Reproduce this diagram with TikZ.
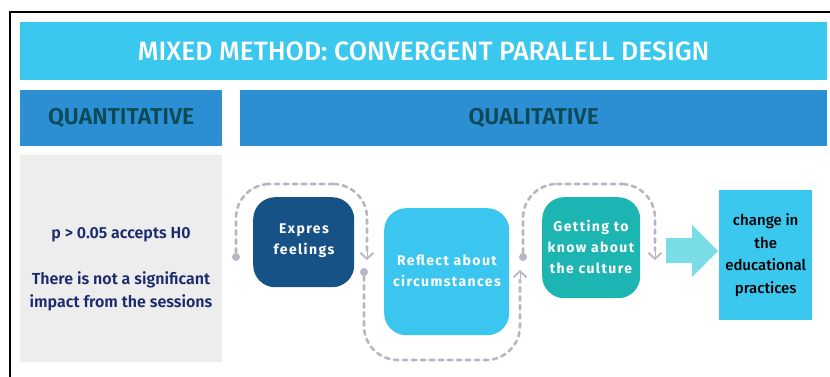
\documentclass[tikz,border=0pt]{standalone}
\usepackage{fontspec}
\setmainfont{Fira Sans}
\newfontfamily\sbfont{Fira Sans SemiBold}
\newfontfamily\mdfont{Fira Sans Medium}
\usetikzlibrary{arrows.meta}
\definecolor{titlecol}{HTML}{3AC8EF}
\definecolor{headcol}{HTML}{2D8FD3}
\definecolor{headtxt}{HTML}{0B4A56}
\definecolor{graybox}{HTML}{EDEDED}
\definecolor{navytxt}{HTML}{1A2A6C}
\definecolor{expcol}{HTML}{175287}
\definecolor{refcol}{HTML}{3AC6EE}
\definecolor{getcol}{HTML}{1CB5B1}
\definecolor{arrcol}{HTML}{7ADDE6}
\definecolor{chgcol}{HTML}{3AC8EF}
\definecolor{dashcol}{HTML}{B7B7C4}
\tikzset{
  bar/.style={fill=#1, draw=none, inner sep=0pt, anchor=north west},
  stepbox/.style={fill=#1, draw=none, rounded corners=22pt, inner sep=0pt, anchor=north west},
  steptxt/.style={text=white, font=\bfseries\addfontfeatures{LetterSpace=10}\fontsize{14}{21}\selectfont, align=center},
  headtext/.style={text=headtxt, font=\sbfont\fontsize{23}{25}\selectfont},
  dashline/.style={draw=dashcol, line width=2.6pt, dash pattern=on 4.5pt off 4.5pt, line cap=round, rounded corners=34pt},
  chev/.style={-{Straight Barb[length=6pt,width=13pt,line width=1.8pt]}},
  dotnode/.style={circle, fill=dashcol, inner sep=0pt, minimum size=8pt},
}
\begin{document}
\begin{tikzpicture}[x=1pt,y=-1pt]
\useasboundingbox (0,0) rectangle (830,377);
% frame
\draw[line width=1.5pt] (10,377) -- (10,12) -- (830,12);
% title
\node[bar=titlecol, minimum width=807pt, minimum height=58pt] (title) at (20,22) {};
\node[text=white, font=\mdfont\fontsize{26.5}{28}\selectfont] (titletxt) at (title.center) {MIXED METHOD: CONVERGENT PARALELL DESIGN};
% headers
\node[bar=headcol, minimum width=202pt, minimum height=56pt] (quant) at (20,90) {};
\node[headtext] (quanttxt) at (quant.center) {QUANTITATIVE};
\node[bar=headcol, minimum width=587pt, minimum height=56pt] (qual) at (240,90) {};
\node[headtext] (qualtxt) at (qual.center) {QUALITATIVE};
% gray box
\node[bar=graybox, minimum width=202pt, minimum height=207pt] (gray) at (20,155) {};
\node[text=navytxt, font=\sbfont\fontsize{16}{18}\selectfont] (ptxt) at (121,235) {p > 0.05 accepts H0};
\node[text=navytxt, font=\sbfont\fontsize{16}{23}\selectfont, align=center] (imptxt) at (121,291) {There is not a significant\\impact from the sessions};
% step boxes
\node[stepbox=expcol, minimum width=101pt, minimum height=90pt] (exp) at (253,197) {};
\node[steptxt] (exptxt) at (304,241) {Expres\\feelings};
\node[stepbox=refcol, minimum width=125pt, minimum height=127pt] (ref) at (384,208) {};
\node[steptxt] (reftxt) at (447,271) {Reflect about\\circumstances};
\node[stepbox=getcol, minimum width=98pt, minimum height=101pt] (get) at (542,197) {};
\node[steptxt] (gettxt) at (591,247) {Getting to\\know about\\the culture};
% big arrow
\fill[arrcol] (666,238) -- (692,238) -- (692,225) -- (718,251) -- (692,277) -- (692,263) -- (666,263) -- cycle;
% change box
\node[bar=chgcol, minimum width=93pt, minimum height=130pt] (chg) at (719,190) {};
\node[text=black, font=\mdfont\fontsize{15}{22.5}\selectfont, align=center] (chgtxt) at (chg.center) {change in\\the\\educational\\practices};
% dashed connectors
\node[dotnode] (d1) at (236,257) {};
\node[dotnode] (d2) at (364,272) {};
\node[dotnode] (d3) at (523,257) {};
\coordinate (e1) at (367,260);
\coordinate (e2) at (520,270);
\coordinate (e3) at (655,260);
\draw[dashline] (d1) |- (301,184) -| (367,250);
\draw[chev, draw=dashcol] (367,250) -- (e1);
\draw[dashline] (d2) |- (450,360) -| (520,280);
\draw[chev, draw=dashcol] (520,280) -- (e2);
\draw[dashline] (d3) |- (590,184) -| (655,250);
\draw[chev, draw=dashcol] (655,250) -- (e3);
\end{tikzpicture}
\end{document}
